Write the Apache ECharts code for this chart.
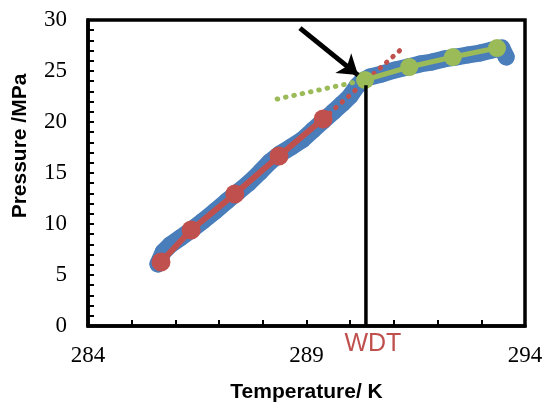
<!DOCTYPE html>
<html>
<head>
<meta charset="utf-8">
<script src="https://cdn.jsdelivr.net/npm/echarts@6/dist/echarts.min.js"></script>
<style>
  html, body { margin: 0; padding: 0; background: #fff; }
  #chart { width: 544px; height: 404px; }
</style>
</head>
<body>
<div id="chart"></div>
<script>
// Measured pressure-temperature trace (thick band)
const measuredT = [285.60, 285.72, 285.88, 286.11, 286.36, 286.63, 286.91, 287.18, 287.43, 287.68,
                   287.94, 288.16, 288.39, 288.65, 288.90, 289.15, 289.38, 289.61, 289.81, 290.00,
                   290.16, 290.27, 290.45, 290.73, 291.03, 291.32, 291.60, 291.87, 292.15, 292.42,
                   292.70, 292.97, 293.25, 293.47, 293.57];
const measuredP = [6.08, 7.25, 7.94, 8.63, 9.41, 10.29, 11.27, 12.25, 13.14, 14.02,
                   15.10, 16.08, 16.86, 17.55, 18.24, 19.22, 20.10, 20.98, 21.76, 22.55,
                   23.53, 24.02, 24.41, 24.71, 25.10, 25.39, 25.69, 25.88, 26.18, 26.37,
                   26.57, 26.76, 27.06, 27.25, 26.37];

// Lower branch (before the break) and upper branch (after the break)
const lowerT = [285.67, 286.36, 287.36, 288.37, 289.38];
const lowerP = [6.27, 9.41, 12.94, 16.67, 20.29];
const upperT = [290.34, 291.35, 292.35, 293.36];
const upperP = [24.12, 25.39, 26.37, 27.25];

// Extrapolated trend lines of each branch
const lowerTrendT = [289.38, 291.25];
const lowerTrendP = [20.29, 27.45];
const upperTrendT = [288.33, 290.34];
const upperTrendP = [22.25, 24.12];

// Break point marker and arrow
const wdtT = 290.36;
const wdtTop = 23.6;
const arrowFrom = [288.85, 29.2];
const arrowTo = [290.18, 24.6];
const wdtLabel = 'WDT';

// Axis settings
const xMin = 284, xMax = 294, yMin = 0, yMax = 30;
const xTitle = 'Temperature/ K';
const yTitle = 'Pressure /MPa';

const zip = (a, b) => a.map((v, i) => [v, b[i]]);

const BLUE = '#4A7EBB', RED = '#C0504D', GREEN = '#9BBB59';
const serif = '"Liberation Serif", "Times New Roman", serif';
const sans = '"Liberation Sans", Arial, sans-serif';

const chart = echarts.init(document.getElementById('chart'), null, { renderer: 'canvas' });

chart.setOption({
  animation: false,
  backgroundColor: '#fff',
  grid: {
    left: 88, right: 19, top: 20, bottom: 78,
    containLabel: false, outerBoundsMode: 'none',
    show: true, borderColor: '#000', borderWidth: 3.5, backgroundColor: 'transparent'
  },
  xAxis: {
    type: 'value', min: xMin, max: xMax, interval: 1,
    name: xTitle, nameLocation: 'middle', nameGap: 56,
    nameTextStyle: { fontFamily: sans, fontWeight: 'bold', fontSize: 21, color: '#000' },
    axisLine: { show: true, lineStyle: { color: '#000', width: 3.5 } },
    axisTick: { show: true, inside: true, length: 6, lineStyle: { color: '#000', width: 2 } },
    axisLabel: {
      margin: 18, fontFamily: serif, fontSize: 23, color: '#000',
      formatter: v => (Math.round(v - xMin) % 5 === 0 ? String(v) : '')
    },
    splitLine: { show: false }
  },
  yAxis: {
    type: 'value', min: yMin, max: yMax, interval: 1,
    name: yTitle, nameLocation: 'middle', nameGap: 57, nameRotate: 90,
    nameTextStyle: { fontFamily: sans, fontWeight: 'bold', fontSize: 21, color: '#000', padding: [0, 0, 0, 54] },
    axisLine: { show: true, lineStyle: { color: '#000', width: 3.5 } },
    axisTick: { show: true, inside: true, length: 6, lineStyle: { color: '#000', width: 2 } },
    axisLabel: {
      margin: 21, fontFamily: serif, fontSize: 23, color: '#000',
      formatter: v => (v % 5 === 0 ? String(v) : '')
    },
    splitLine: { show: false }
  },
  series: [
    {
      type: 'line', data: zip(measuredT, measuredP),
      symbol: 'circle', symbolSize: 17, showSymbol: true,
      itemStyle: { color: BLUE },
      lineStyle: { color: BLUE, width: 17, cap: 'round', join: 'round' },
      z: 2
    },
    {
      type: 'line', data: zip(lowerTrendT, lowerTrendP), symbol: 'none',
      lineStyle: { color: RED, width: 5, type: [0.5, 8], cap: 'round' },
      z: 3
    },
    {
      type: 'line', data: zip(upperTrendT, upperTrendP), symbol: 'none',
      lineStyle: { color: GREEN, width: 5, type: [0.5, 8], cap: 'round' },
      z: 3
    },
    {
      type: 'line', data: zip(lowerT, lowerP),
      symbol: 'circle', symbolSize: 19,
      itemStyle: { color: RED },
      lineStyle: { color: RED, width: 6 },
      z: 4
    },
    {
      type: 'line', data: zip(upperT, upperP),
      symbol: 'circle', symbolSize: 18,
      itemStyle: { color: GREEN },
      lineStyle: { color: GREEN, width: 5 },
      z: 4
    },
    {
      type: 'line', data: [[wdtT, yMin], [wdtT, wdtTop]], symbol: 'none',
      lineStyle: { color: '#000', width: 3.5 },
      z: 5
    },
    {
      type: 'lines', coordinateSystem: 'cartesian2d',
      symbol: ['none', 'arrow'], symbolSize: 19,
      data: [{ coords: [arrowFrom, arrowTo] }],
      lineStyle: { color: '#000', width: 5, opacity: 1 },
      z: 6
    }
  ]
});

// Label for the break temperature, placed just under the axis at the marker line
const p = chart.convertToPixel({ gridIndex: 0 }, [wdtT, yMin]);
chart.setOption({
  graphic: [{
    type: 'text', x: p[0] + 7, y: p[1] + 18,
    style: { text: wdtLabel, fill: RED, font: '25px ' + sans, textAlign: 'center', textVerticalAlign: 'middle' },
    z: 10
  }]
});
</script>
</body>
</html>
